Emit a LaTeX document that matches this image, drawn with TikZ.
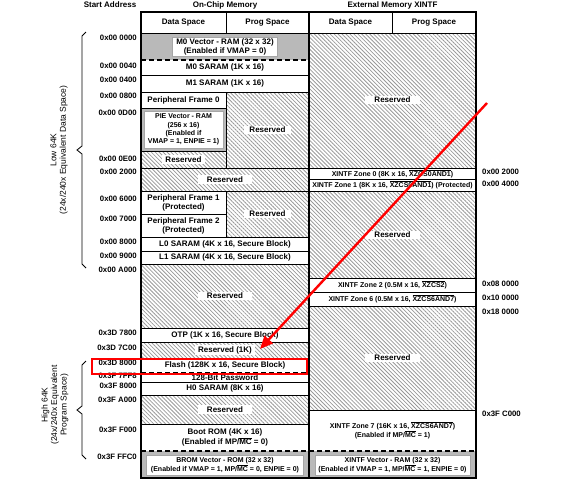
\documentclass[tikz,border=0pt]{standalone}
\usepackage{fontspec}
\setmainfont{Liberation Sans}
\usetikzlibrary{patterns.meta,arrows.meta}
\newcommand{\ovl}[1]{$\overline{\mbox{#1}}$}
\begin{document}
\begin{tikzpicture}[x=1pt,y=-1pt,
  gridline/.style={line width=0.9pt},
  frameline/.style={line width=1.5pt},
  dashline/.style={line width=1.1pt, dash pattern=on 5pt off 3pt},
  hatch/.style={pattern={Lines[angle=-45,distance=2.8pt,line width=0.8pt]},pattern color=gray!80},
  vecfill/.style={fill=gray!55},
  txt/.style={font=\bfseries\fontsize{8}{9}\selectfont, align=center, inner sep=1pt},
  stxt/.style={font=\bfseries\fontsize{7}{8}\selectfont, align=center, inner sep=1pt},
  lbl/.style={txt, fill=white, inner xsep=3pt, inner ysep=1.5pt},
  biglbl/.style={lbl, inner xsep=9pt},
  vbox/.style={fill=white, draw=gray!70, line width=0.4pt},
  addr/.style={font=\bfseries\fontsize{7.8}{9}\selectfont, anchor=east, inner sep=0pt},
  raddr/.style={font=\bfseries\fontsize{7.8}{9}\selectfont, anchor=west, inner sep=0pt},
  hdr/.style={font=\bfseries\fontsize{8}{9}\selectfont, inner sep=0pt},
  brlbl/.style={font=\fontsize{8.5}{9.5}\selectfont, align=center, rotate=90, inner sep=0pt},
  bracket/.style={line width=0.8pt},
  hl/.style={draw=red, line width=2pt},
  hlarrow/.style={draw=red, line width=2.4pt, -{Triangle[length=13pt,width=11pt]}}
]
\useasboundingbox (0,0) rectangle (565,480);

% ---- fills ----
\path[hatch] (226,92) rectangle (309,168);
\path[hatch] (141,151) rectangle (226,168);
\path[hatch] (141,168) rectangle (309,191);
\path[hatch] (226,191) rectangle (309,237);
\path[hatch] (141,264) rectangle (309,328);
\path[hatch] (141,342) rectangle (309,358);
\path[hatch] (141,395) rectangle (309,424);
\path[hatch] (309,33) rectangle (476,168);
\path[hatch] (309,191) rectangle (476,278);
\path[hatch] (309,306) rectangle (476,410);
\path[vecfill] (141,33) rectangle (309,60);
\path[vecfill] (141,108) rectangle (226,151);
\path[vecfill] (141,451) rectangle (309,478);
\path[vecfill] (309,451) rectangle (476,478);

% ---- grid lines ----
\draw[gridline] (141,33) -- (476,33);
\draw[gridline] (141,75) -- (309,75);
\draw[gridline] (141,92) -- (309,92);
\draw[gridline] (141,108) -- (226,108);
\draw[gridline] (141,151) -- (226,151);
\draw[gridline] (141,168) -- (476,168);
\draw[gridline] (309,179) -- (476,179);
\draw[gridline] (141,191) -- (476,191);
\draw[gridline] (141,214) -- (226,214);
\draw[gridline] (141,237) -- (309,237);
\draw[gridline] (141,251) -- (309,251);
\draw[gridline] (141,264) -- (309,264);
\draw[gridline] (309,278) -- (476,278);
\draw[gridline] (309,292) -- (476,292);
\draw[gridline] (309,306) -- (476,306);
\draw[gridline] (141,328) -- (309,328);
\draw[gridline] (141,342) -- (309,342);
\draw[gridline] (141,358) -- (309,358);
\draw[gridline] (141,382) -- (309,382);
\draw[gridline] (141,395) -- (309,395);
\draw[gridline] (309,410) -- (476,410);
\draw[gridline] (141,424) -- (309,424);
\draw[gridline] (226,12) -- (226,33);
\draw[gridline] (392,12) -- (392,33);
\draw[gridline] (226,92) -- (226,168);
\draw[gridline] (226,191) -- (226,237);
\draw[dashline] (141,60) -- (309,60);
\draw[dashline] (141,373) -- (309,373);
\draw[dashline] (141,451) -- (309,451);
\draw[dashline] (309,451) -- (476,451);
\draw[frameline] (309,12) -- (309,478);
\draw[frameline] (141,12) rectangle (476,478);

% ---- headers ----
\node[hdr] (hstart) at (110,5) {Start Address};
\node[hdr] (honchip) at (225,5) {On-Chip Memory};
\node[hdr] (hext) at (392.5,5) {External Memory XINTF};
\node[txt] (hd1) at (183.5,22.5) {Data Space};
\node[txt] (hp1) at (267.5,22.5) {Prog Space};
\node[txt] (hd2) at (350.5,22.5) {Data Space};
\node[txt] (hp2) at (434,22.5) {Prog Space};

% ---- on-chip cells ----
\node[txt, vbox, inner xsep=4pt, inner ysep=1.5pt] (m0vec) at (225,46.5) {M0 Vector - RAM (32 x 32)\\(Enabled if VMAP = 0)};
\node[txt] (m0) at (225,67.5) {M0 SARAM (1K x 16)};
\node[txt] (m1) at (225,83.5) {M1 SARAM (1K x 16)};
\node[txt] (pf0) at (183.5,100) {Peripheral Frame 0};
\node[stxt, vbox, minimum width=79pt, minimum height=37pt, font=\bfseries\fontsize{7}{8.3}\selectfont] (pie) at (183.5,129.5) {PIE Vector - RAM\\(256 x 16)\\(Enabled if\\VMAP = 1, ENPIE = 1)};
\node[lbl, inner xsep=5pt] (res1) at (267.5,130) {Reserved};
\node[lbl] (res2) at (183.5,159.5) {Reserved};
\node[biglbl] (res3) at (225,179.5) {Reserved};
\node[txt] (pf1) at (183.5,202.5) {Peripheral Frame 1\\(Protected)};
\node[txt] (pf2) at (183.5,225.5) {Peripheral Frame 2\\(Protected)};
\node[lbl, inner xsep=5pt] (res4) at (267.5,214) {Reserved};
\node[txt] (l0) at (225,244) {L0 SARAM (4K x 16, Secure Block)};
\node[txt] (l1) at (225,257.5) {L1 SARAM (4K x 16, Secure Block)};
\node[biglbl] (res5) at (225,296) {Reserved};
\node[txt] (otp) at (225,335) {OTP (1K x 16, Secure Block)};
\node[lbl] (res6) at (225,350) {Reserved (1K)};
\node[txt] (flash) at (225,365.5) {Flash (128K x 16, Secure Block)};
\node[txt] (pwd) at (225,377.5) {128-Bit Password};
\node[txt] (h0) at (225,388.5) {H0 SARAM (8K x 16)};
\node[biglbl] (res7) at (225,409.5) {Reserved};
\node[txt] (boot) at (225,437.5) {Boot ROM (4K x 16)\\(Enabled if MP/\ovl{MC} = 0)};
\node[stxt, vbox, minimum width=157pt, inner ysep=2pt] (brom) at (225,465) {BROM Vector - ROM (32 x 32)\\(Enabled if VMAP = 1, MP/\ovl{MC} = 0, ENPIE = 0)};

% ---- external cells ----
\node[biglbl] (xres1) at (392.5,100) {Reserved};
\node[stxt] (z0) at (392.5,173.5) {XINTF Zone 0 (8K x 16, \ovl{XZCS0AND1})};
\node[stxt] (z1) at (392.5,185) {XINTF Zone 1 (8K x 16, \ovl{XZCS0AND1}) (Protected)};
\node[biglbl] (xres2) at (392.5,235) {Reserved};
\node[stxt] (z2) at (392.5,285) {XINTF Zone 2 (0.5M x 16, \ovl{XZCS2})};
\node[stxt] (z6) at (392.5,299) {XINTF Zone 6 (0.5M x 16, \ovl{XZCS6AND7})};
\node[biglbl] (xres3) at (392.5,358) {Reserved};
\node[stxt] (z7) at (392.5,430.5) {XINTF Zone 7 (16K x 16, \ovl{XZCS6AND7})\\(Enabled if MP/\ovl{MC} = 1)};
\node[stxt, vbox, minimum width=155pt, inner ysep=2pt] (xvec) at (392.5,465) {XINTF Vector - RAM (32 x 32)\\(Enabled if VMAP = 1, MP/\ovl{MC} = 1, ENPIE = 0)};

% ---- left addresses ----
\node[addr] (a1) at (137,38) {0x00 0000};
\node[addr] (a2) at (137,66) {0x00 0040};
\node[addr] (a3) at (137,80) {0x00 0400};
\node[addr] (a4) at (137,96) {0x00 0800};
\node[addr] (a5) at (137,113) {0x00 0D00};
\node[addr] (a6) at (137,159) {0x00 0E00};
\node[addr] (a7) at (137,172) {0x00 2000};
\node[addr] (a8) at (137,199) {0x00 6000};
\node[addr] (a9) at (137,219) {0x00 7000};
\node[addr] (a10) at (137,242) {0x00 8000};
\node[addr] (a11) at (137,256) {0x00 9000};
\node[addr] (a12) at (137,270) {0x00 A000};
\node[addr] (a13) at (137,333) {0x3D 7800};
\node[addr] (a14) at (137,348) {0x3D 7C00};
\node[addr] (a15) at (137,363) {0x3D 8000};
\node[addr] (a16) at (137,376) {0x3F 7FF8};
\node[addr] (a17) at (137,386) {0x3F 8000};
\node[addr] (a18) at (137,400) {0x3F A000};
\node[addr] (a19) at (137,430) {0x3F F000};
\node[addr] (a20) at (137,457) {0x3F FFC0};

% ---- right addresses ----
\node[raddr] (b1) at (482,172) {0x00 2000};
\node[raddr] (b2) at (482,184) {0x00 4000};
\node[raddr] (b3) at (482,284) {0x08 0000};
\node[raddr] (b4) at (482,298) {0x10 0000};
\node[raddr] (b5) at (482,312) {0x18 0000};
\node[raddr] (b6) at (482,414) {0x3F C000};

% ---- brackets ----
\draw[bracket] (86,32) -- (82,36) -- (82,146) -- (77,150) -- (82,154) -- (82,264) -- (86,268);
\draw[bracket] (86,361) -- (82,365) -- (82,406) -- (77,410) -- (82,414) -- (82,455) -- (86,459);
\node[brlbl] (low) at (59,150) {Low 64K\\(24x/240x Equivalent Data Space)};
\node[brlbl] (high) at (55,405) {High 64K\\(24x/240x Equivalent\\Program Space)};

% ---- red highlight ----
\draw[hl] (92,359) rectangle (307,374);
\coordinate (hlstart) at (487,103);
\coordinate (hltip) at (260,349);
\draw[hlarrow] (hlstart) -- (hltip);
\end{tikzpicture}
\end{document}
